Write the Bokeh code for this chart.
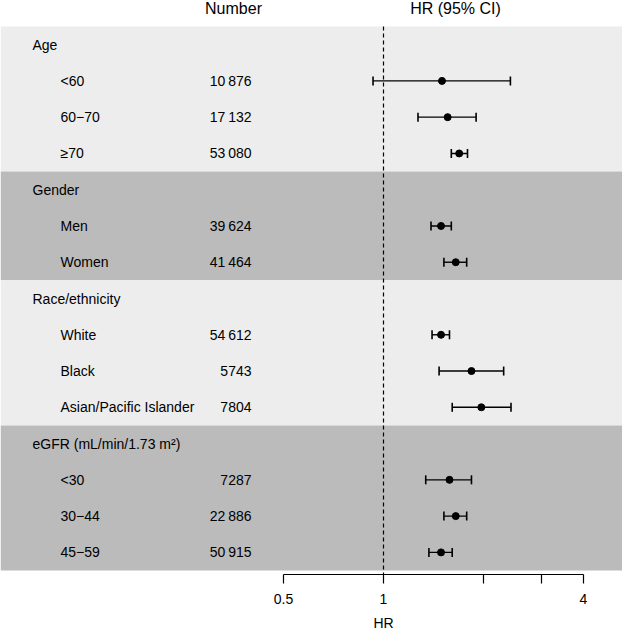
import math
from bokeh.plotting import figure
from bokeh.models import Range1d, FixedTicker, ColumnDataSource, LinearScale, Title
from bokeh.embed import file_html
from bokeh.resources import INLINE
from bokeh.core.properties import value

# ---- data ----
groups = ["Age", "Gender", "Race/ethnicity", "eGFR (mL/min/1.73 m²)"]
subgroups = [
    ["<60", "60\u221270", "\u226570"],
    ["Men", "Women"],
    ["White", "Black", "Asian/Pacific Islander"],
    ["<30", "30\u221244", "45\u221259"],
]
numbers = ["10\u2009876", "17\u2009132", "53\u2009080", "39\u2009624", "41\u2009464",
           "54\u2009612", "5743", "7804", "7287", "22\u2009886", "50\u2009915"]
hr = [1.50, 1.56, 1.69, 1.49, 1.65, 1.49, 1.84, 1.97, 1.58, 1.65, 1.49]
ci_low = [0.93, 1.27, 1.60, 1.39, 1.52, 1.40, 1.47, 1.61, 1.34, 1.52, 1.37]
ci_high = [2.41, 1.90, 1.79, 1.60, 1.78, 1.58, 2.30, 2.42, 1.84, 1.78, 1.61]
tick_values = [0.5, 1, 2, 3, 4]
tick_labels = ["0.5", "1", "", "", "4"]
headers = ["Number", "HR (95% CI)"]
axis_title = "HR"
ref_hr = 1
band_colors = ["#EDEDED", "#BBBBBB"]

# ---- row layout ----
g_rows, s_rows, band_top, band_bot, band_col = [], [], [], [], []
row = 0
for gi, subs in enumerate(subgroups):
    g_rows.append(row)
    band_top.append(row - 0.5)
    row += 1
    for _ in subs:
        s_rows.append(row)
        row += 1
    band_bot.append(row - 0.5)
    band_col.append(band_colors[gi % 2])
sub_labels = [s for subs in subgroups for s in subs]
n_rows = row

FONT_NAME = "Liberation Sans"
FONT = value(FONT_NAME)

y_bottom = n_rows - 0.5 + 0.11
p = figure(width=622, height=638, x_axis_type="log",
           x_range=Range1d(2 ** -3.83, 2 ** 2.39),
           y_range=Range1d(y_bottom, -1.217),
           y_axis_location=None, output_backend="svg", toolbar_location=None,
           min_border_left=0, min_border_right=0, min_border_top=0, min_border_bottom=64)
p.extra_x_ranges = {"px": Range1d(0, 622)}
p.extra_x_scales = {"px": LinearScale()}
p.outline_line_color = None
p.grid.visible = False
p.background_fill_color = "white"
p.border_fill_color = "white"

# bands
p.quad(left=0, right=622, top=band_top, bottom=band_bot, fill_color=band_col,
       line_color=None, x_range_name="px")

# reference line
p.segment(x0=[ref_hr], x1=[ref_hr], y0=[-0.5], y1=[y_bottom],
          line_color="black", line_width=1.2, line_dash="4 3")

src = ColumnDataSource(dict(row=s_rows, hr=hr, lo=ci_low, hi=ci_high))
p.segment(x0="lo", x1="hi", y0="row", y1="row", source=src,
          line_color="black", line_width=1.4)
for end in ("lo", "hi"):
    p.scatter(x=end, y="row", source=src, marker="dash", angle=math.pi / 2,
              size=9, line_color="black", line_width=1.6)
p.scatter(x="hr", y="row", source=src, size=7, color="black")

# texts
p.text(x=[32] * len(groups), y=g_rows, text=groups, x_range_name="px",
       text_font=FONT, text_font_size="14px", text_baseline="middle",
       text_align="left", text_color="black")
p.text(x=[60] * len(sub_labels), y=s_rows, text=sub_labels, x_range_name="px",
       text_font=FONT, text_font_size="14px", text_baseline="middle",
       text_align="left", text_color="black")
p.text(x=[251] * len(numbers), y=s_rows, text=numbers, x_range_name="px",
       text_font=FONT, text_font_size="14px", text_baseline="middle",
       text_align="right", text_color="black")
p.text(x=[233, 455], y=[-1.0, -1.0], text=headers, x_range_name="px",
       text_font=FONT, text_font_size="16px", text_baseline="middle",
       text_align="center", text_color="black")

ax = p.xaxis[0]
ax.ticker = FixedTicker(ticks=tick_values)
ax.major_label_overrides = {t: l for t, l in zip(tick_values, tick_labels)}
ax.bounds = (tick_values[0], tick_values[-1])
ax.axis_line_color = "black"
ax.axis_line_width = 1.2
ax.major_tick_line_color = "black"
ax.major_tick_line_width = 1.2
ax.major_tick_out = 9
ax.major_tick_in = 0
ax.minor_tick_out = 0
ax.minor_tick_in = 0
ax.major_label_standoff = 10
ax.major_label_text_font = FONT_NAME
ax.major_label_text_font_size = "14px"
ax.major_label_text_color = "black"

# axis title, placed under HR = 1 as in the reference
p.add_layout(Title(text=axis_title, align="left", offset=373, standoff=12,
                   text_font=FONT_NAME, text_font_size="14px",
                   text_font_style="normal", text_color="black"), "below")

open("out.html", "w").write(file_html(p, INLINE))
